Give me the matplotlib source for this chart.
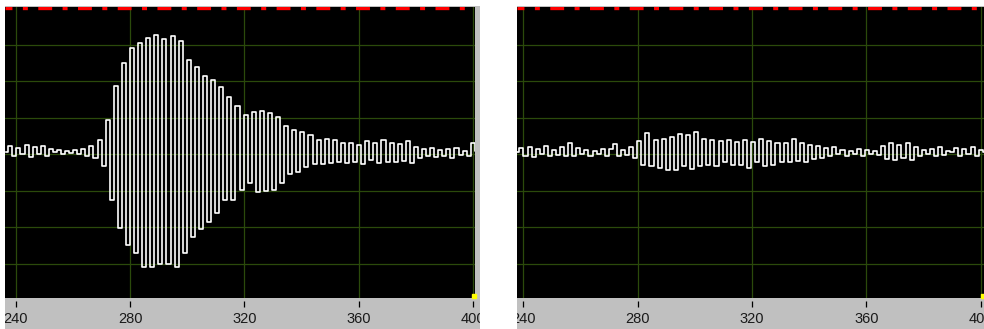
import numpy as np
import matplotlib
matplotlib.use("Agg")
import matplotlib.pyplot as plt
from matplotlib.patches import Rectangle
from matplotlib.transforms import Bbox, TransformedBbox

plt.rcParams['font.family'] = ['Liberation Sans', 'DejaVu Sans']
plt.rcParams['lines.scale_dashes'] = False

t0 = 236.6
dt = 1.42

left_vals = [
    0.05, 0.22, -0.05, 0.18, 0.02, 0.25, -0.08, 0.2, 0.0, 0.24, -0.06, 0.15,
    0.05, 0.12, 0.02, 0.1, 0.04, 0.12, 0.0, 0.15, -0.04, 0.22, -0.1,
    0.38, -0.32,
    0.93, -1.26, 1.86, -2.03, 2.5, -2.5, 2.9, -2.7, 3.05, -3.1, 3.2, -3.1,
    3.26, -3.0, 3.15, -3.0, 3.23, -3.1, 3.1, -2.7, 2.57, -2.27, 2.4, -2.06,
    2.14, -1.86, 2.03, -1.62, 1.83, -1.26, 1.57, -1.25, 1.32, -0.99, 1.07,
    -0.79, 1.15, -1.04, 1.18, -1.0, 1.12, -0.98, 1.02, -0.8, 0.77, -0.53,
    0.66, -0.48, 0.6, -0.35, 0.52, -0.28, 0.38, -0.28, 0.42, -0.25, 0.38,
    -0.22, 0.3, -0.25, 0.32, -0.2, 0.25, -0.28, 0.35, -0.15, 0.3, -0.25, 0.38,
    -0.2, 0.3, -0.22, 0.28, -0.18, 0.35, -0.25, 0.2, -0.1, 0.15, -0.05, 0.18,
    -0.08, 0.12, -0.05, 0.15, -0.1, 0.18, -0.02, 0.1, -0.05, 0.3, 0.1,
]

right_vals = [
    0.1, 0.05, 0.18, -0.05, 0.2, -0.08, 0.15, 0.0, 0.22, -0.06, 0.12, -0.02,
    0.2, -0.05, 0.3, -0.04, 0.18, 0.02, 0.12, -0.05, 0.1, 0.0, 0.15, -0.04,
    0.14, 0.28, -0.06, 0.12, -0.02, 0.2,
    -0.1, 0.37, -0.3, 0.57, -0.33, 0.4, -0.39, 0.43, -0.43, 0.47, -0.43, 0.55,
    -0.33, 0.52, -0.41, 0.62, -0.33, 0.43, -0.3, 0.39, -0.33, 0.37, -0.22, 0.4,
    -0.3, 0.33, -0.3, 0.4, -0.38, 0.33, -0.22, 0.43, -0.33, 0.37, -0.3, 0.3,
    -0.22, 0.3, -0.2, 0.43, -0.18, 0.3, -0.2, 0.25, -0.12, 0.22, -0.1,
    0.18, -0.05, 0.2, 0.0, 0.12, -0.04, 0.1, 0.02, 0.15, -0.05, 0.12, 0.0,
    0.1, -0.03, 0.22, -0.12, 0.3, -0.16, 0.25, -0.1, 0.3, -0.15, 0.2, -0.05,
    0.12, 0.0, 0.15, -0.05, 0.2, -0.02, 0.1, 0.05, 0.18, -0.05, 0.15, 0.0,
    0.2, -0.05, 0.12, 0.05,
]

xticks = [240, 280, 320, 360, 400]
limit_level = 4.0

W, H = 984, 329
fig = plt.figure(figsize=(W / 100, H / 100), dpi=100)
fig.patch.set_facecolor('white')

# panel frames in pixels: (left, right) of the grey box, black plot area width
panels = [
    dict(x0=5, x1=480, pw=470, xlim=(236.15, 400.7), vals=left_vals),
    dict(x0=517, x1=984, pw=467, xlim=(237.9, 401.05), vals=right_vals),
]

for p in panels:
    fig.add_artist(Rectangle((p['x0'] / W, 0), (p['x1'] - p['x0']) / W, 323.5 / H,
                             transform=fig.transFigure, facecolor='#c0c0c0',
                             edgecolor='none', zorder=0))
    ax = fig.add_axes([p['x0'] / W, 31 / H, p['pw'] / W, 291.5 / H])
    ax.set_facecolor('black')
    t = t0 + dt * np.arange(len(p['vals']))
    ax.plot(t, p['vals'], color='white', lw=1.2, drawstyle='steps-mid', zorder=3)
    ax.axhline(limit_level, color='#ff0000', lw=2.4,
               linestyle=(5, (10, 7.5, 3.6, 7.5)), zorder=4)
    ax.set_xlim(*p['xlim'])
    ax.set_ylim(-3.94, 4.05)
    ax.set_xticks(xticks)
    ax.set_yticks(range(-3, 4))
    ax.set_axisbelow(True)
    ax.grid(color='#2b4a0b', lw=0.9)
    for s in ax.spines.values():
        s.set_visible(False)
    ax.spines['bottom'].set_position(('outward', 2.4))
    ax.tick_params(axis='y', length=0, labelleft=False)
    ax.tick_params(axis='x', direction='out', length=4.5, width=0.9,
                   color='black', pad=3, labelsize=10.5, labelcolor='#1a1a1a')
    ax.plot([0.997], [0.006], transform=ax.transAxes, marker='s', ms=2.5,
            color='#ffff00', clip_on=False, zorder=5)
    clip = TransformedBbox(Bbox([[p['x0'] / W, 0], [p['x1'] / W, 31 / H]]),
                           fig.transFigure)
    for lab in ax.get_xticklabels():
        lab.set_clip_on(True)
        lab.set_clip_box(clip)

fig.savefig('out.png', dpi=100, facecolor='white')
